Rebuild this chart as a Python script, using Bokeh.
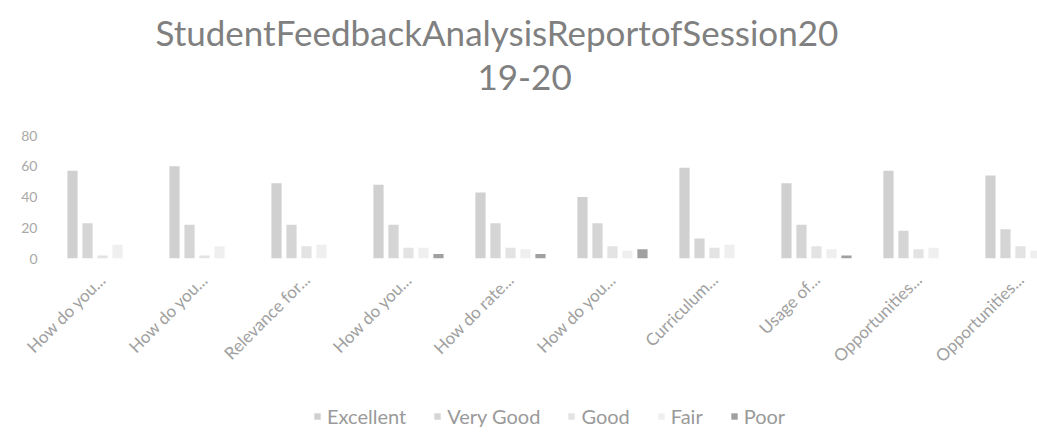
import math
from bokeh.plotting import figure
from bokeh.layouts import column
from bokeh.models import Range1d, FixedTicker, Legend, LegendItem, Title, ColumnDataSource
from bokeh.embed import file_html
from bokeh.resources import INLINE

categories = ["How do you...", "How do you...", "Relevance for...", "How do you...",
              "How do rate...", "How do you...", "Curriculum...", "Usage of...",
              "Opportunities...", "Opportunities..."]
series = ["Excellent", "Very Good", "Good", "Fair", "Poor"]
excellent = [57, 60, 49, 48, 43, 40, 59, 49, 57, 54]
very_good = [23, 22, 22, 22, 23, 23, 13, 22, 18, 19]
good = [2, 2, 8, 7, 7, 8, 7, 8, 6, 8]
fair = [9, 8, 9, 7, 6, 5, 9, 6, 7, 5]
poor = [0, 0, 0, 3, 3, 6, 0, 2, 0, 0]
y_ticks = [0, 20, 40, 60, 80]
title_lines = ["StudentFeedbackAnalysisReportofSession20", "19-20"]

colors = ["#d0d0d0", "#d5d5d5", "#e3e3e3", "#efefef", "#a0a0a0"]
values_by_series = [excellent, very_good, good, fair, poor]
FONT = "Lato"

p = figure(width=1037, height=400, output_backend="svg", toolbar_location=None,
           x_range=Range1d(-0.5588, 9.167), y_range=Range1d(0, 80),
           min_border_left=45, min_border_right=0, min_border_top=135, min_border_bottom=142)
p.background_fill_color = "white"
p.border_fill_color = "white"
p.outline_line_color = None
p.grid.grid_line_color = None

pitch = 0.147
for k, (name, vals) in enumerate(zip(series, values_by_series)):
    xs = [i + (k - 2) * pitch for i in range(len(categories))]
    src = ColumnDataSource(dict(x=xs, top=vals))
    p.vbar(x="x", top="top", width=0.1, bottom=0, source=src,
           fill_color=colors[k], line_color=None)

p.xaxis.ticker = FixedTicker(ticks=list(range(len(categories))))
p.xaxis.major_label_overrides = {i: c for i, c in enumerate(categories)}
p.xaxis.major_label_orientation = math.pi / 4
p.xaxis.axis_line_color = None
p.xaxis.major_tick_line_color = None
p.xaxis.minor_tick_line_color = None
p.xaxis.major_label_text_font = FONT
p.xaxis.major_label_text_font_size = "17px"
p.xaxis.major_label_text_color = "#a0a0a0"
p.xaxis.major_label_standoff = 12

p.yaxis.ticker = FixedTicker(ticks=y_ticks)
p.yaxis.axis_line_color = None
p.yaxis.major_tick_line_color = None
p.yaxis.minor_tick_line_color = None
p.yaxis.major_label_text_font = FONT
p.yaxis.major_label_text_font_size = "14px"
p.yaxis.major_label_text_color = "#a8a8a8"
p.yaxis.major_label_standoff = 2

# spacer closest to the frame, then the two title lines
p.add_layout(Title(text=" ", text_font=FONT, text_font_size="24px"), "above")
p.add_layout(Title(text=title_lines[1], align="left", offset=432,
                   text_font=FONT, text_font_size="35px", text_font_style="normal",
                   text_line_height=1.0, text_color="#808080"), "above")
p.add_layout(Title(text=title_lines[0], align="left", offset=110,
                   text_font=FONT, text_font_size="35px", text_font_style="normal",
                   text_color="#808080"), "above")

# legend strip below the chart (its swatches use out-of-view placeholder bars)
lg = figure(width=1037, height=34, output_backend="svg", toolbar_location=None,
            x_range=Range1d(0, 1), y_range=Range1d(0, 1),
            x_axis_type=None, y_axis_type=None,
            min_border_left=0, min_border_right=0, min_border_top=0, min_border_bottom=0)
lg.outline_line_color = None
lg.grid.grid_line_color = None
lg.background_fill_color = "white"
lg.border_fill_color = "white"
items = []
for k, name in enumerate(series):
    r = lg.vbar(x="x", top="top", width=0.1, bottom=0,
                source=ColumnDataSource(dict(x=[5.0], top=[0.0])),
                fill_color=colors[k], line_color=None)
    items.append(LegendItem(label=name, renderers=[r]))
legend = Legend(items=items, orientation="horizontal", location=(268, 6),
                label_text_font=FONT, label_text_font_size="20px", label_text_color="#9a9a9a",
                glyph_width=8, glyph_height=8, spacing=27, label_standoff=6,
                border_line_color=None, background_fill_alpha=0, margin=0, padding=4)
lg.add_layout(legend)

layout = column(p, lg, spacing=0)
open("out.html", "w").write(file_html(layout, INLINE))
